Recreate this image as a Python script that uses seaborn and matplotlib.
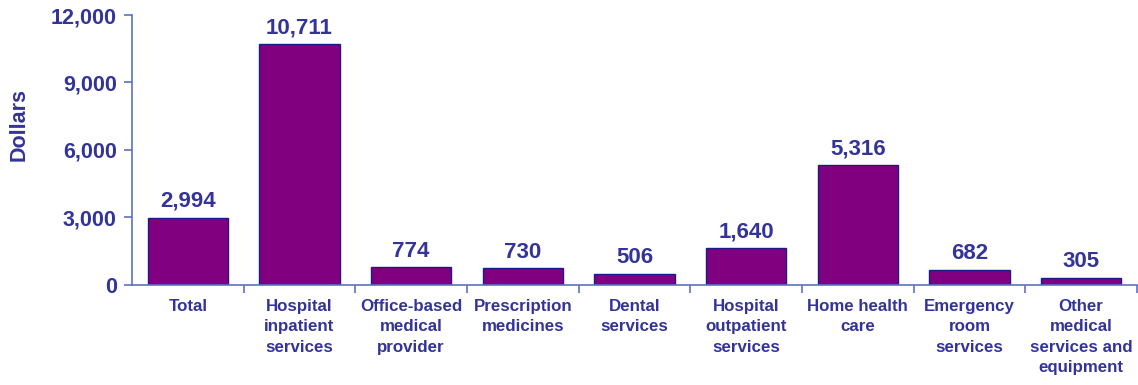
import matplotlib
matplotlib.use("Agg")
import matplotlib.pyplot as plt
import seaborn as sns
import pandas as pd
import numpy as np
from matplotlib.ticker import FuncFormatter, FixedLocator

categories = ["Total", "Hospital\ninpatient\nservices", "Office-based\nmedical\nprovider",
              "Prescription\nmedicines", "Dental\nservices", "Hospital\noutpatient\nservices",
              "Home health\ncare", "Emergency\nroom\nservices", "Other\nmedical\nservices and\nequipment"]
values = [2994, 10711, 774, 730, 506, 1640, 5316, 682, 305]
yticks = [0, 3000, 6000, 9000, 12000]

sns.set_theme(style="white")
plt.rcParams['font.family'] = ['Liberation Sans', 'DejaVu Sans']

TXT = "#333399"
AX = "#5f6fc4"

df = pd.DataFrame({"cat": categories, "val": values})
fig = plt.figure(figsize=(11.38, 3.85), dpi=100)
ax = fig.add_axes([0.116, 0.26, 0.883, 0.701])
sns.barplot(data=df, x="cat", y="val", color="#800080", width=0.72,
            edgecolor="#1a1a8c", linewidth=1.0, saturation=1, ax=ax)

ax.set_ylim(0, 12000)
ax.set_xlim(-0.5, len(categories) - 0.5)
ax.set_yticks(yticks)
ax.yaxis.set_major_formatter(FuncFormatter(lambda v, p: f"{int(v):,}"))
ax.set_xlabel("")
ax.set_ylabel("Dollars", fontsize=15.5, fontweight="bold", color=TXT)
ax.yaxis.set_label_coords(-0.102, 0.596)

for s in ["top", "right"]:
    ax.spines[s].set_visible(False)
for s in ["left", "bottom"]:
    ax.spines[s].set_color(AX)
    ax.spines[s].set_linewidth(1.2)

ax.tick_params(axis="y", which="major", direction="out", length=6, width=1.2, color=AX,
               labelsize=15.5, labelcolor=TXT, pad=5, left=True)
ax.tick_params(axis="x", which="major", length=0, labelsize=12.2, labelcolor=TXT, pad=10)
for lab in ax.get_yticklabels():
    lab.set_fontweight("bold")
for lab in ax.get_xticklabels():
    lab.set_fontweight("bold")
    lab.set_linespacing(1.45)
    lab.set_verticalalignment("top")

ax.xaxis.set_minor_locator(FixedLocator(np.arange(0.5, len(categories), 1.0)))
ax.tick_params(axis="x", which="minor", direction="out", length=6, width=1.2, color=AX, bottom=True)

for i, v in enumerate(values):
    ax.text(i, v + 250, f"{v:,}", ha="center", va="bottom", fontsize=16,
            fontweight="bold", color=TXT)

fig.savefig("out.png", dpi=100)
